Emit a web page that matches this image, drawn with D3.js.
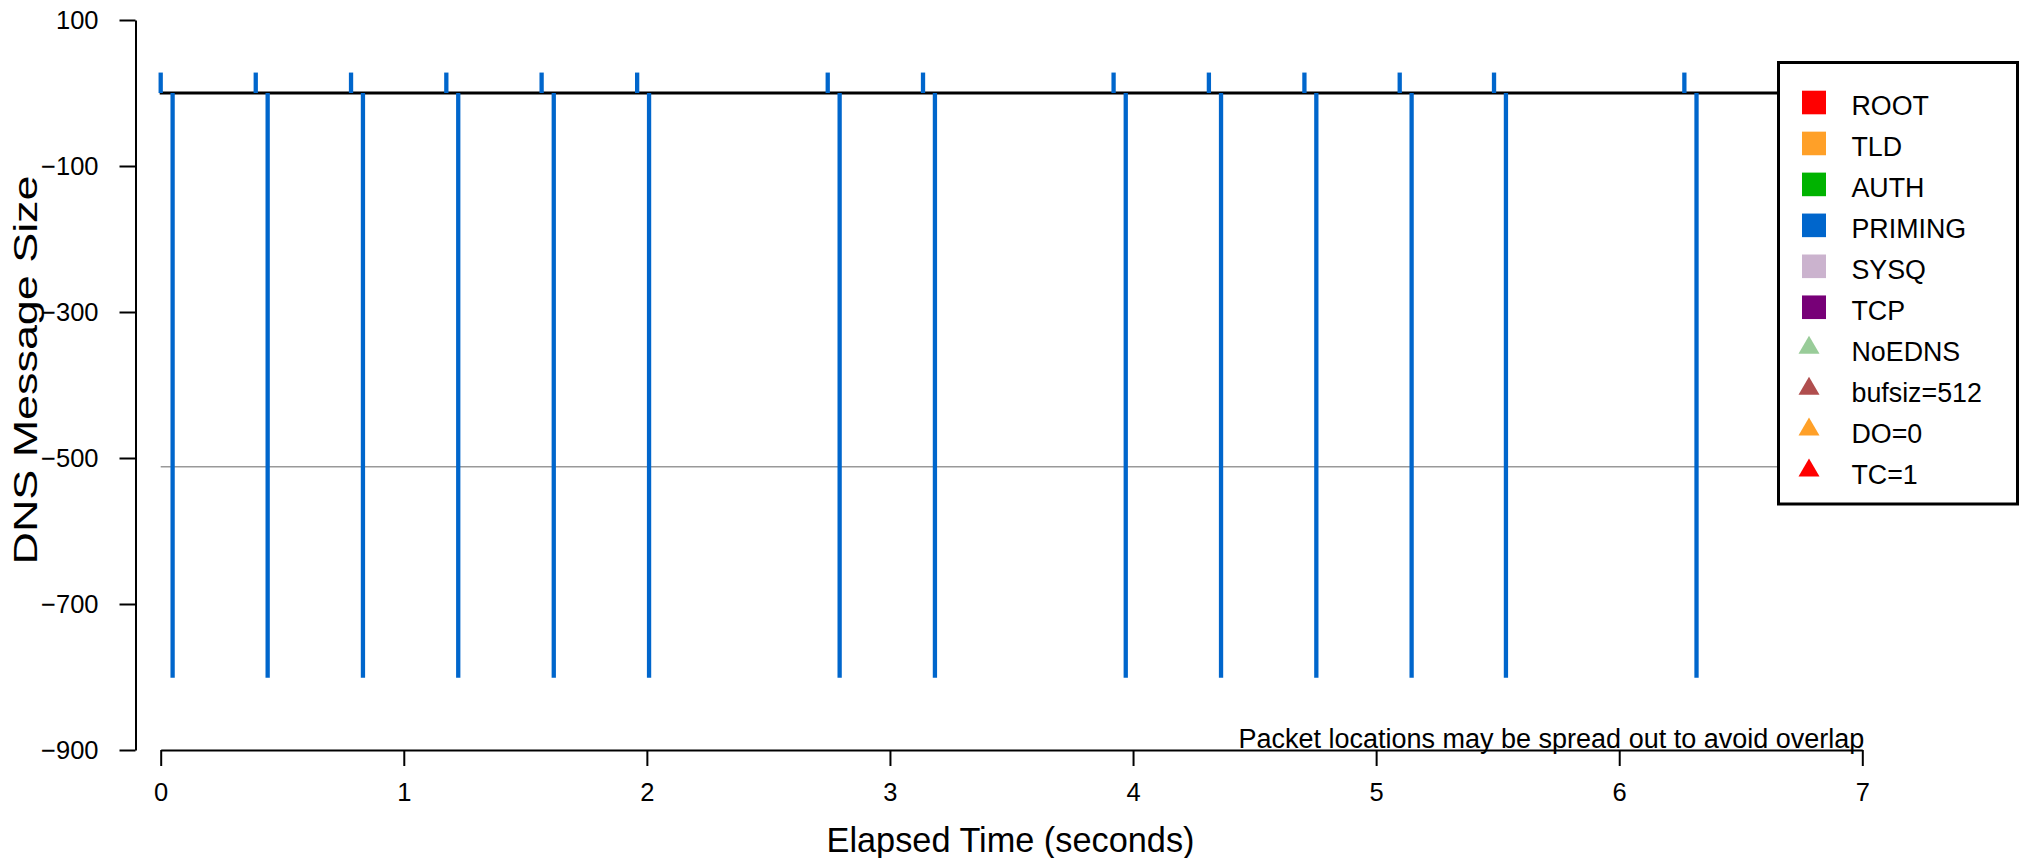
<!DOCTYPE html>
<html>
<head>
<meta charset="utf-8">
<script src="https://cdn.jsdelivr.net/npm/d3@7/dist/d3.min.js"></script>
<style>
  html, body { margin: 0; padding: 0; background: #fff; }
  svg { display: block; font-family: "Liberation Sans", Arial, Helvetica, sans-serif; }
</style>
</head>
<body>
<svg id="chart" width="2020" height="858"></svg>
<script>
// ---- data ----
const queryTimes    = [0.000, 0.391, 0.783, 1.175, 1.567, 1.960, 2.744, 3.136, 3.920, 4.312, 4.705, 5.097, 5.485, 6.268];
const querySizes    = [28, 28, 28, 28, 28, 28, 28, 28, 28, 28, 28, 28, 28, 28];
const responseTimes = [0.049, 0.440, 0.832, 1.224, 1.617, 2.009, 2.793, 3.185, 3.970, 4.362, 4.754, 5.146, 5.534, 6.318];
const responseSizes = [801, 801, 801, 801, 801, 801, 801, 801, 801, 801, 801, 801, 801, 801];
const xTicks = [0, 1, 2, 3, 4, 5, 6, 7];
const yTicks = [-900, -700, -500, -300, -100, 100];
const bufLimit = 512;
const legendLabels = ["ROOT", "TLD", "AUTH", "PRIMING", "SYSQ", "TCP", "NoEDNS", "bufsiz=512", "DO=0", "TC=1"];
const legendColors = ["#ff0000", "#ffa028", "#00b300", "#0066cc", "#cbb3ce", "#770077", "#99cc99", "#b04e4e", "#ffa028", "#ff0000"];
const legendShapes = ["square", "square", "square", "square", "square", "square", "triangle", "triangle", "triangle", "triangle"];
const primingColor = "#0066cc";

// ---- layout ----
const svg = d3.select("#chart");
const x = d3.scaleLinear().domain([0, 7]).range([160.7, 1862.3]);
const y = d3.scaleLinear().domain([-900, 100]).range([750, 20]);
const yAxisX = 135.5;
const xAxisY = 750;

// reference lines
svg.append("line")
  .attr("x1", x(0)).attr("x2", 1790)
  .attr("y1", y(-bufLimit)).attr("y2", y(-bufLimit))
  .attr("stroke", "#999").attr("stroke-width", 1.3);

svg.append("line")
  .attr("x1", x(0) - 1).attr("x2", 1790)
  .attr("y1", y(0)).attr("y2", y(0))
  .attr("stroke", "#000").attr("stroke-width", 3);

// queries (upwards)
svg.append("g").selectAll("line").data(queryTimes).join("line")
  .attr("x1", d => x(d)).attr("x2", d => x(d))
  .attr("y1", y(0)).attr("y2", (d, i) => y(querySizes[i]))
  .attr("stroke", primingColor).attr("stroke-width", 4.3);

// responses (downwards)
svg.append("g").selectAll("line").data(responseTimes).join("line")
  .attr("x1", d => x(d)).attr("x2", d => x(d))
  .attr("y1", y(0)).attr("y2", (d, i) => y(-responseSizes[i]))
  .attr("stroke", primingColor).attr("stroke-width", 4.3);

// axes
const yAxis = d3.axisLeft(y).tickValues(yTicks).tickSize(16).tickSizeOuter(0).tickPadding(21);
const gy = svg.append("g").attr("transform", `translate(${yAxisX},0)`).call(yAxis);
const xAxis = d3.axisBottom(x).tickValues(xTicks).tickSize(16).tickSizeOuter(0).tickPadding(17).tickFormat(d3.format("d"));
const gx = svg.append("g").attr("transform", `translate(0,${xAxisY})`).call(xAxis);
[gx, gy].forEach(g => {
  g.select(".domain").attr("stroke", "#000").attr("stroke-width", 2);
  g.selectAll(".tick line").attr("stroke", "#000").attr("stroke-width", 2);
  g.selectAll(".tick text").attr("fill", "#000").style("font-size", "25.5px")
    .style("font-family", '"Liberation Sans", Arial, Helvetica, sans-serif');
});

// axis titles
svg.append("text")
  .attr("x", (x(0) + x(7)) / 2 - 1).attr("y", 852)
  .attr("text-anchor", "middle").style("font-size", "34.3px")
  .text("Elapsed Time (seconds)");

svg.append("text")
  .attr("transform", `translate(37,370) scale(1,1.36) rotate(-90)`)
  .attr("text-anchor", "middle").style("font-size", "33px")
  .text("DNS Message Size");

// note
svg.append("text")
  .attr("x", x(7) + 2).attr("y", 748)
  .attr("text-anchor", "end").style("font-size", "27px")
  .text("Packet locations may be spread out to avoid overlap");

// legend
const lg = svg.append("g");
lg.append("rect")
  .attr("x", 1778.5).attr("y", 62.5).attr("width", 239).attr("height", 441.5)
  .attr("fill", "#fff").attr("stroke", "#000").attr("stroke-width", 3);
const baseline0 = 115, rowStep = 40.95;
const items = lg.selectAll("g.item").data(legendLabels).join("g").attr("class", "item")
  .attr("transform", (d, i) => `translate(0,${baseline0 + i * rowStep})`);
items.each(function(d, i) {
  const g = d3.select(this);
  if (legendShapes[i] === "square") {
    g.append("rect").attr("x", 1802).attr("y", -24.3).attr("width", 24).attr("height", 23.6)
      .attr("fill", legendColors[i]);
  } else {
    g.append("path").attr("d", "M1809,-25 L1819.5,-7 L1798.5,-7 Z").attr("fill", legendColors[i]);
  }
  g.append("text").attr("x", 1851.5).attr("y", 0).style("font-size", "26.8px").text(d);
});
</script>
</body>
</html>
